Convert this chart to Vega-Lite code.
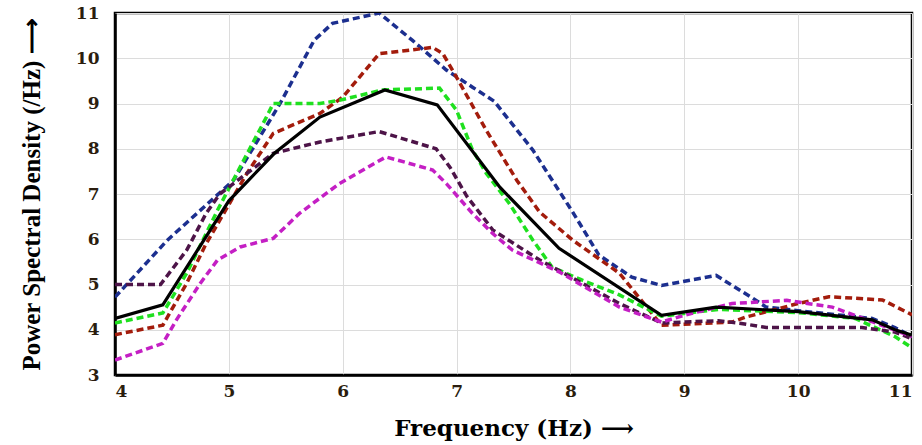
{
  "$schema": "https://vega.github.io/schema/vega-lite/v6.json",
  "autosize": {"type": "none"},
  "padding": {"left": 115, "top": 13, "right": 10, "bottom": 70},
  "width": 797,
  "height": 362,
  "background": "white",
  "config": {
    "view": {"stroke": "#000000", "strokeWidth": 2.5},
    "axis": {
      "domainColor": "#000000",
      "domainWidth": 2.5,
      "gridColor": "#dcdcdc",
      "gridWidth": 1,
      "ticks": false,
      "labelFont": "DejaVu Serif",
      "labelFontWeight": "bold",
      "labelFontSize": 17,
      "labelColor": "#2b1d0e",
      "titleFontWeight": "bold",
      "titleColor": "#000000"
    }
  },
  "data": {"values": [
    {"s":"blue","f":4.0,"p":4.72},{"s":"blue","f":4.46,"p":5.98},{"s":"blue","f":5.04,"p":7.3},{"s":"blue","f":5.45,"p":9.0},{"s":"blue","f":5.75,"p":10.4},{"s":"blue","f":5.91,"p":10.77},{"s":"blue","f":6.32,"p":11.0},{"s":"blue","f":6.61,"p":10.4},{"s":"blue","f":6.91,"p":9.74},{"s":"blue","f":7.14,"p":9.36},{"s":"blue","f":7.33,"p":9.05},{"s":"blue","f":7.67,"p":7.97},{"s":"blue","f":8.02,"p":6.6},{"s":"blue","f":8.25,"p":5.65},{"s":"blue","f":8.54,"p":5.16},{"s":"blue","f":8.8,"p":4.98},{"s":"blue","f":9.28,"p":5.2},{"s":"blue","f":9.6,"p":4.7},{"s":"blue","f":9.72,"p":4.5},{"s":"blue","f":10.0,"p":4.42},{"s":"blue","f":10.65,"p":4.25},{"s":"blue","f":10.85,"p":4.05},{"s":"blue","f":11.0,"p":3.85},
    {"s":"red","f":4.0,"p":3.89},{"s":"red","f":4.42,"p":4.1},{"s":"red","f":4.63,"p":5.03},{"s":"red","f":4.8,"p":5.9},{"s":"red","f":5.16,"p":7.46},{"s":"red","f":5.39,"p":8.34},{"s":"red","f":5.8,"p":8.78},{"s":"red","f":6.0,"p":9.14},{"s":"red","f":6.32,"p":10.1},{"s":"red","f":6.79,"p":10.24},{"s":"red","f":6.88,"p":10.1},{"s":"red","f":7.0,"p":9.58},{"s":"red","f":7.26,"p":8.41},{"s":"red","f":7.53,"p":7.3},{"s":"red","f":7.73,"p":6.6},{"s":"red","f":8.02,"p":5.98},{"s":"red","f":8.43,"p":5.25},{"s":"red","f":8.8,"p":4.1},{"s":"red","f":9.42,"p":4.17},{"s":"red","f":9.54,"p":4.28},{"s":"red","f":10.0,"p":4.58},{"s":"red","f":10.27,"p":4.73},{"s":"red","f":10.74,"p":4.66},{"s":"red","f":11.0,"p":4.33},
    {"s":"green","f":4.0,"p":4.15},{"s":"green","f":4.42,"p":4.37},{"s":"green","f":4.63,"p":5.25},{"s":"green","f":4.9,"p":6.64},{"s":"green","f":5.1,"p":7.6},{"s":"green","f":5.33,"p":8.7},{"s":"green","f":5.39,"p":9.0},{"s":"green","f":5.8,"p":9.0},{"s":"green","f":5.97,"p":9.07},{"s":"green","f":6.35,"p":9.3},{"s":"green","f":6.85,"p":9.34},{"s":"green","f":7.0,"p":8.85},{"s":"green","f":7.14,"p":7.97},{"s":"green","f":7.26,"p":7.46},{"s":"green","f":7.46,"p":6.8},{"s":"green","f":7.67,"p":5.98},{"s":"green","f":7.84,"p":5.38},{"s":"green","f":8.1,"p":5.1},{"s":"green","f":8.43,"p":4.77},{"s":"green","f":8.8,"p":4.3},{"s":"green","f":9.3,"p":4.45},{"s":"green","f":10.0,"p":4.38},{"s":"green","f":10.5,"p":4.25},{"s":"green","f":10.85,"p":3.85},{"s":"green","f":11.0,"p":3.6},
    {"s":"purple","f":4.0,"p":5.0},{"s":"purple","f":4.4,"p":5.0},{"s":"purple","f":4.63,"p":5.76},{"s":"purple","f":4.8,"p":6.57},{"s":"purple","f":4.92,"p":7.0},{"s":"purple","f":5.39,"p":7.9},{"s":"purple","f":5.8,"p":8.15},{"s":"purple","f":6.32,"p":8.38},{"s":"purple","f":6.82,"p":8.0},{"s":"purple","f":6.94,"p":7.6},{"s":"purple","f":7.09,"p":6.95},{"s":"purple","f":7.32,"p":6.2},{"s":"purple","f":7.73,"p":5.54},{"s":"purple","f":8.43,"p":4.58},{"s":"purple","f":8.8,"p":4.15},{"s":"purple","f":9.3,"p":4.2},{"s":"purple","f":9.5,"p":4.14},{"s":"purple","f":9.72,"p":4.05},{"s":"purple","f":10.0,"p":4.05},{"s":"purple","f":10.56,"p":4.05},{"s":"purple","f":10.85,"p":3.95},{"s":"purple","f":11.0,"p":3.8},
    {"s":"magenta","f":4.0,"p":3.33},{"s":"magenta","f":4.42,"p":3.7},{"s":"magenta","f":4.54,"p":4.22},{"s":"magenta","f":4.75,"p":5.03},{"s":"magenta","f":4.9,"p":5.54},{"s":"magenta","f":5.1,"p":5.83},{"s":"magenta","f":5.39,"p":6.02},{"s":"magenta","f":5.62,"p":6.57},{"s":"magenta","f":5.97,"p":7.23},{"s":"magenta","f":6.38,"p":7.82},{"s":"magenta","f":6.79,"p":7.53},{"s":"magenta","f":6.91,"p":7.23},{"s":"magenta","f":7.14,"p":6.57},{"s":"magenta","f":7.32,"p":6.12},{"s":"magenta","f":7.49,"p":5.76},{"s":"magenta","f":7.9,"p":5.28},{"s":"magenta","f":8.43,"p":4.5},{"s":"magenta","f":8.8,"p":4.17},{"s":"magenta","f":9.0,"p":4.32},{"s":"magenta","f":9.42,"p":4.58},{"s":"magenta","f":9.9,"p":4.65},{"s":"magenta","f":10.3,"p":4.5},{"s":"magenta","f":10.68,"p":4.15},{"s":"magenta","f":11.0,"p":3.85},
    {"s":"black","f":4.0,"p":4.25},{"s":"black","f":4.42,"p":4.55},{"s":"black","f":5.0,"p":6.85},{"s":"black","f":5.4,"p":7.9},{"s":"black","f":5.8,"p":8.7},{"s":"black","f":6.37,"p":9.3},{"s":"black","f":6.83,"p":8.97},{"s":"black","f":7.38,"p":7.15},{"s":"black","f":7.9,"p":5.8},{"s":"black","f":8.8,"p":4.32},{"s":"black","f":9.28,"p":4.5},{"s":"black","f":10.0,"p":4.4},{"s":"black","f":10.65,"p":4.22},{"s":"black","f":10.85,"p":4.0},{"s":"black","f":11.0,"p":3.88}
  ]},
  "encoding": {
    "x": {"field": "f", "type": "quantitative",
      "scale": {"domain": [4, 11], "nice": false, "zero": false},
      "axis": {"values": [4,5,6,7,8,9,10,11], "title": "Frequency (Hz)  ⟶", "labelPadding": 8, "titlePadding": 18,
               "titleFont": "DejaVu Serif", "titleFontSize": 23}},
    "y": {"field": "p", "type": "quantitative",
      "scale": {"domain": [3, 11], "nice": false, "zero": false},
      "axis": {"values": [3,4,5,6,7,8,9,10,11], "title": "Power Spectral Density  (/Hz)  ⟶", "labelPadding": 16, "titlePadding": 31,
               "titleFont": "Liberation Serif", "titleFontSize": 25}},
    "color": {"field": "s", "type": "nominal", "legend": null,
      "scale": {"domain": ["blue","red","green","purple","magenta","black"],
                "range": ["#1c2f8f","#a31c0c","#1fe01f","#4d1448","#c41fc4","#000000"]}}
  },
  "layer": [
    {"transform": [{"filter": "datum.s !== 'black'"}],
     "mark": {"type": "line", "strokeWidth": 3.5, "strokeDash": [7, 4], "clip": true}},
    {"transform": [{"filter": "datum.s === 'black'"}],
     "mark": {"type": "line", "strokeWidth": 3.2, "clip": true}}
  ]
}
